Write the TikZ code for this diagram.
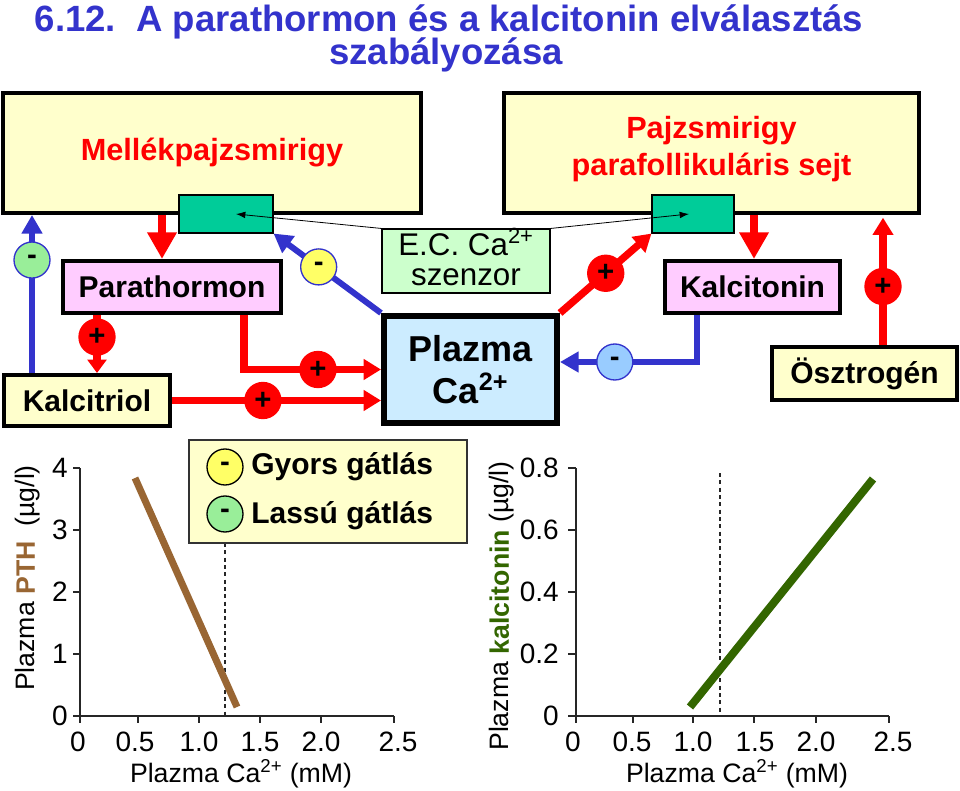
\documentclass[tikz,border=0pt]{standalone}
\usepackage{fontspec}
\setmainfont{Liberation Sans}
\usetikzlibrary{arrows.meta,calc,fit}
\definecolor{ttlblue}{RGB}{51,51,204}
\definecolor{boxyel}{RGB}{255,255,204}
\definecolor{boxpink}{RGB}{255,204,255}
\definecolor{boxblue}{RGB}{204,236,255}
\definecolor{boxgreen}{RGB}{204,255,204}
\definecolor{recgreen}{RGB}{0,204,153}
\definecolor{arrred}{RGB}{255,0,0}
\definecolor{arrblue}{RGB}{51,51,204}
\definecolor{cgreen}{RGB}{153,238,153}
\definecolor{cyellow}{RGB}{255,255,102}
\definecolor{cblue}{RGB}{153,204,255}
\definecolor{pthbrown}{RGB}{153,102,51}
\definecolor{ctgreen}{RGB}{51,102,0}
\begin{document}
\begin{tikzpicture}[x=0.75pt,y=-0.75pt,
  lbl/.style={font=\bfseries\fontsize{22.5}{26}\selectfont},
  bigtxt/.style={text=arrred, align=center, font=\bfseries\fontsize{23}{28}\selectfont},
  bigbox/.style={draw, line width=3pt, fill=boxyel, inner sep=0pt},
  hbox/.style={draw, line width=3pt, inner sep=0pt},
  recbox/.style={draw, line width=0.8pt, fill=recgreen, inner sep=0pt},
  sign/.style={circle, draw, line width=1pt, minimum size=27pt, inner sep=0pt, font=\bfseries\fontsize{22}{22}\selectfont},
  redbig/.style={draw=arrred, line width=6.5pt, -{Triangle[length=20pt,width=21pt]}},
  redarr/.style={draw=arrred, line width=5.5pt, -{Triangle[length=13pt,width=15pt]}},
  bluearr/.style={draw=arrblue, line width=4.5pt, -{Triangle[length=14pt,width=15pt]}},
  thinarr/.style={draw=black, line width=0.6pt, -{Latex[length=7pt,width=5pt]}},
  axisline/.style={draw=black!85, line width=1.1pt},
  ticklbl/.style={font=\fontsize{21}{21}\selectfont},
  axtitle/.style={font=\fontsize{20}{20}\selectfont},
]
\useasboundingbox[fill=white] (0,0) rectangle (960,791);

% title
\node[anchor=base, text=ttlblue, font=\bfseries\fontsize{27.4}{30}\selectfont] (t1) at (449,32) {6.12.\ \ A parathormon és a kalcitonin elválasztás};
\node[anchor=base, text=ttlblue, font=\bfseries\fontsize{27.4}{30}\selectfont] (t2) at (446,65) {szabályozása};

% boxes
\node[bigbox, fit={(3,93) (421,213)}, label={[bigtxt]center:Mellékpajzsmirigy}] (mel) {};
\node[bigbox, fit={(504,93) (919,213)}, label={[bigtxt, yshift=3pt]center:Pajzsmirigy\\parafollikuláris sejt}] (thy) {};
\node[recbox, fit={(179,195) (273,233)}] (recL) {};
\node[recbox, fit={(652,195) (734,233)}] (recR) {};
\node[draw, line width=0.8pt, fill=boxgreen, inner sep=0pt, fit={(382,229) (550,293)},
  label={[align=center, font=\fontsize{23.5}{22}\selectfont, yshift=3pt]center:E.C. Ca\textsuperscript{2+}\\szenzor}] (sens) {};
\node[hbox, fill=boxpink, fit={(63,261) (281,313)}, label={[lbl]center:Parathormon}] (pth) {};
\node[hbox, fill=boxyel, fit={(4,375) (170,426)}, label={[lbl]center:Kalcitriol}] (kal) {};
\node[draw, line width=4.5pt, fill=boxblue, inner sep=0pt, fit={(384,316) (557,423)},
  label={[align=center, font=\bfseries\fontsize{27}{31}\selectfont]center:Plazma\\Ca\textsuperscript{2+}}] (plz) {};
\node[hbox, fill=boxpink, fit={(665,261) (840,313)}, label={[lbl]center:Kalcitonin}] (kalc) {};
\node[hbox, fill=boxyel, fit={(772,347) (957,400)}, label={[lbl]center:Ösztrogén}] (osz) {};

% thin sensor arrows
\draw[thinarr] (sens.north west) -- ($(recL.center)+(10,0)$);
\draw[thinarr] (sens.north east) -- ($(recR.center)+(-4,0)$);

% connectors
\coordinate (c1) at ($(pth.north)+(-10,0)$);
\draw[redbig] (c1 |- mel.south) -- (c1);
\coordinate (c2) at ($(kal.north)+(-55,0)$);
\draw[bluearr] (c2) -- node[sign, fill=cgreen, pos=0.715] {-} (c2 |- mel.south);
\coordinate (c3) at ($(pth.south)+(-75,0)$);
\draw[draw=arrred, line width=5.5pt, -{Triangle[length=10pt,width=14pt]}] (c3) -- node[sign, fill=arrred, pos=0.38] {+} (c3 |- kal.north);
\coordinate (c4) at ($(pth.south)+(72,0)$);
\draw[redarr] (c4) |- node[sign, fill=arrred, pos=0.77] {+} (plz.west);
\draw[redarr] (kal.east) -- node[sign, fill=arrred, pos=0.435] {+} (kal.east -| plz.west);
\draw[bluearr] (plz.north west) -- node[sign, fill=cyellow, pos=0.58] {-} (recL.south east);
\draw[redarr] (plz.north east) -- node[sign, fill=arrred, pos=0.5] {+} (recR.south west);
\coordinate (c5) at ($(kalc.north)+(1.5,0)$);
\draw[redbig] (c5 |- thy.south) -- (c5);
\coordinate (c6) at ($(kalc.south)+(-55.5,0)$);
\coordinate (c7) at ($(plz.east)+(0,-7.5)$);
\draw[bluearr] (c6) |- node[sign, fill=cblue, pos=0.8] {-} (c7);
\coordinate (c8) at ($(osz.north)+(18.5,0)$);
\draw[redarr, shorten >=2pt] (c8) -- node[sign, fill=arrred, pos=0.45] {+} (c8 |- thy.south);

% ---------- left plot ----------
\draw[black!85, line width=0.8pt, dash pattern=on 3pt off 2.5pt] (225,543) -- (225,716);
\draw[axisline] (80,468) -- (80,716) -- (394,716);
\foreach \yy/\lab in {716/0,654/1,592/2,530/3,468/4}{
  \draw[axisline] (73,\yy) -- (80,\yy);
  \node[ticklbl, anchor=east, inner sep=0pt] at (68,\yy) {\lab};
}
\foreach \xx in {80,138,199,260,321,394}{ \draw[axisline] (\xx,716) -- (\xx,723); }
\foreach \xx/\lab in {78/0,135/0.5,199/1.0,260/1.5,321/2.0,398/2.5}{
  \node[ticklbl] at (\xx,742) {\lab};
}
\node[axtitle] at (241,774) {Plazma Ca\textsuperscript{2+} (mM)};
\node[axtitle, rotate=90] at (28,578) {Plazma \textbf{\color{pthbrown}PTH}\ \ (µg/l)};
\draw[pthbrown, line width=5.25pt] (135,478) -- (237,707);

% legend
\node[draw=black!80, line width=0.8pt, fill=boxyel, inner sep=0pt, fit={(189,440) (467,543)}] (leg) {};
\node[sign, fill=cyellow] (lg1) at (225,467) {-};
\node[sign, fill=cgreen] (lg2) at (225,514) {-};
\node[lbl, anchor=west, inner sep=0pt] at (251,467) {Gyors gátlás};
\node[lbl, anchor=west, inner sep=0pt] at (251,516) {Lassú gátlás};

% ---------- right plot ----------
\draw[black!85, line width=0.8pt, dash pattern=on 3pt off 2.5pt] (720,473) -- (720,716);
\draw[axisline] (576,468) -- (576,716) -- (889,716);
\foreach \yy/\lab in {716/0,654/0.2,592/0.4,530/0.6,468/0.8}{
  \draw[axisline] (568,\yy) -- (576,\yy);
  \node[ticklbl, anchor=east, inner sep=0pt] at (559,\yy) {\lab};
}
\foreach \xx in {576,633,693,754,816,889}{ \draw[axisline] (\xx,716) -- (\xx,723); }
\foreach \xx/\lab in {573/0,632/0.5,693/1.0,755/1.5,816/2.0,893/2.5}{
  \node[ticklbl] at (\xx,742) {\lab};
}
\node[axtitle] at (737,774) {Plazma Ca\textsuperscript{2+} (mM)};
\node[axtitle, rotate=90] at (502,606) {Plazma \textbf{\color{ctgreen}kalcitonin} (µg/l)};
\draw[ctgreen, line width=6pt] (690,707) -- (873,479);
\end{tikzpicture}
\end{document}
